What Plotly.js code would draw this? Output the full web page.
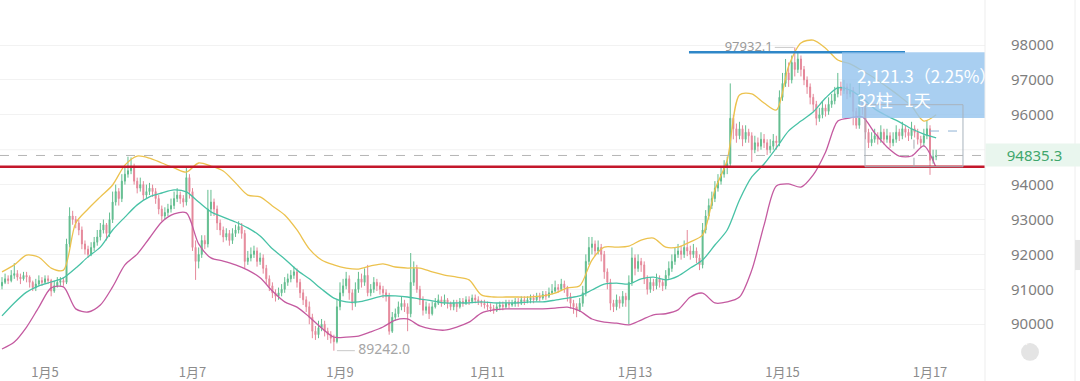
<!DOCTYPE html>
<html>
<head>
<meta charset="utf-8">
<script src="https://cdn.plot.ly/plotly-3.0.1.min.js"></script>
<style>html,body{margin:0;padding:0;background:#fff;}#chart{width:1080px;height:381px;}</style>
</head>
<body>
<div id="chart"></div>
<script>
// ---- data (hourly candles, starting 2025-01-04 10:00) ----
const firstOpen = 91100;
const closePrices = [
91200,91300,91250,91400,91450,91350,91300,91400,91350,91200,
91050,91150,91250,91200,91300,91250,90950,91100,91200,91250,
91200,92300,93100,93000,92900,92700,92300,92150,92000,92200,
92350,92500,92700,92850,92600,93000,93500,93800,93600,94100,
94300,94400,94500,94100,93900,94000,93700,93800,93900,93800,
93600,93300,93100,93200,93300,93400,93600,93700,93600,93500,
94200,93800,92200,91800,92000,92400,92300,93300,93500,93300,
92900,92700,92500,92600,92400,92600,92700,92800,92600,91800,
91900,92000,92100,91800,91900,91600,91300,91100,90900,90800,
90900,91000,91200,91300,91400,91500,91200,90900,90700,90500,
90200,89800,89700,89900,90000,89800,89700,89600,89500,90500,
90900,91100,91300,90900,90600,91000,91300,91200,91400,90900,
91000,91200,91100,91000,90900,90800,89800,90200,90300,90500,
90600,90500,90300,91200,91600,91000,90700,90400,90500,90300,
90500,90600,90700,90600,90700,90600,90500,90600,90500,90650,
90600,90700,90650,90750,90700,90650,90600,90550,90500,90450,
90400,90500,90550,90500,90600,90550,90600,90650,90600,90700,
90650,90700,90750,90700,90800,90750,90850,90800,90900,90950,
91050,91000,91150,91050,90800,90600,90500,90400,90600,90900,
91800,92200,92300,92100,92200,92000,91500,91200,90600,90500,
90700,90600,90800,90700,91200,91900,91600,91800,91700,91300,
91000,91200,91100,91300,91200,91100,91400,91600,91800,92000,
92100,92000,92200,92100,92000,92100,91900,91700,92700,93100,
93400,93600,93900,94100,94300,94500,94600,95900,95600,95400,
95600,95300,95500,95400,95000,95200,95100,95300,95200,95000,
95100,95250,95200,96500,96900,97200,97000,97500,97300,97600,
97300,97000,96800,96500,96300,95900,96000,96200,96100,96300,
96400,96600,96800,96700,96800,96600,96700,96100,95700,96500,
96200,95500,95200,95300,95400,95300,95500,95300,95400,95200,
95300,95500,95400,95600,95500,95400,95600,95500,95300,95200,
95400,95600,94700,94800,94835.3
];
const highPrices = [
91350,91450,91400,91550,91750,91550,91450,91500,91500,91400,
91250,91300,91400,91350,91400,91400,91300,91250,91350,91350,
91350,92450,93350,93250,93100,93000,92800,92400,92250,92350,
92500,92700,92900,93000,92900,93200,93800,94000,93900,94300,
94500,94800,94780,94600,94200,94200,94100,94000,94050,94000,
93900,93700,93400,93350,93450,93600,93800,93900,93800,93700,
94500,94300,93900,92400,92200,92550,92550,93850,93850,93600,
93400,93000,92800,92750,92700,92750,92850,92950,92900,92700,
92100,92200,92250,92200,92050,92000,91700,91400,91200,91000,
91050,91150,91350,91450,91550,91650,91600,91300,91000,90800,
90650,90300,89950,90100,90150,90100,89900,89800,89700,90700,
91200,91300,91500,91400,91000,91200,91500,91450,91600,91700,
91150,91350,91300,91200,91100,91000,90900,90350,90450,90650,
90800,90700,90600,92040,91800,91700,91100,90800,90650,90600,
90650,90750,90850,90800,90850,90750,90650,90700,90700,90750,
90750,90800,90800,90850,90850,90800,90700,90700,90650,90600,
90550,90600,90650,90650,90700,90700,90700,90750,90750,90800,
90800,90800,90850,90850,90900,90900,90950,90950,91050,91150,
91250,91150,91300,91250,91100,90900,90700,90600,90750,91100,
92000,92500,92500,92400,92400,92300,92100,91600,91300,90700,
90850,90800,90950,90900,91400,92200,92000,92000,91900,91800,
91400,91350,91300,91450,91400,91300,91550,91800,92000,92200,
92300,92250,92400,92700,92250,92300,92200,92000,92900,93270,
93600,93800,94100,94300,94500,94700,94800,96900,96000,95750,
95800,95700,95700,95600,95500,95400,95350,95500,95450,95300,
95300,95450,95400,96700,97200,97600,97500,97700,97932.1,97800,
97700,97400,97100,96900,96600,96400,96200,96400,96300,96500,
96600,96800,97200,96950,97000,96900,96900,96800,96200,96950,
96600,96300,95600,95500,95600,95500,95700,95600,95600,95500,
95500,95700,95600,95800,95700,95600,95800,95700,95600,95400,
95600,95850,95700,95000,95000
];
const lowPrices = [
91000,91150,91150,91200,91300,91250,91150,91250,91200,91050,
90950,90950,91100,91100,91150,91150,90800,90900,91050,91100,
91100,91150,92200,92850,92750,92550,92150,92000,91900,91950,
92100,92250,92400,92600,92400,92500,92900,93400,93400,93500,
94000,94200,94300,94000,93750,93800,93550,93600,93700,93650,
93450,93150,92950,93000,93100,93200,93300,93500,93450,93350,
93400,93600,92100,91270,91600,91900,92150,92200,93100,93100,
92700,92550,92350,92400,92250,92300,92500,92600,92450,91600,
91700,91800,91900,91650,91700,91450,91150,90950,90750,90650,
90700,90800,90900,91100,91200,91300,91050,90750,90550,90350,
90000,89600,89550,89600,89800,89650,89550,89450,89242,89450,
90400,90800,91000,90700,90400,90500,90900,91050,91100,90800,
90800,90900,90950,90850,90750,90650,89700,89750,90100,90200,
90400,90350,89800,90200,91100,90900,90550,90250,90300,90150,
90250,90450,90550,90500,90550,90450,90400,90400,90350,90450,
90500,90550,90550,90600,90600,90550,90500,90450,90400,90350,
90300,90350,90400,90400,90450,90450,90500,90500,90500,90550,
90550,90600,90600,90600,90650,90650,90700,90700,90750,90850,
90900,90900,90950,90900,90650,90450,90300,90200,90350,90500,
90800,91700,92000,91950,92000,91800,91300,91000,90400,90350,
90400,90450,90500,90500,90000,91100,91400,91500,91500,91150,
90850,90900,90950,91000,91050,90950,91000,91300,91500,91700,
91900,91850,91900,91950,91850,91900,91750,91550,91600,92600,
93000,93300,93500,93800,94000,94200,94300,94500,95300,95200,
95300,95100,95200,95200,94650,94900,94950,95000,95050,94850,
94900,95000,95000,95100,96400,96800,96800,96900,97100,97200,
97100,96850,96600,96300,96100,95700,95800,95900,95950,96000,
96200,96300,96500,96550,96600,96450,96500,95700,95600,95600,
96000,95300,95050,95100,95200,95150,95200,95150,95200,95050,
95100,95200,95250,95300,95350,95250,95300,95350,95150,95050,
95100,95300,94280,94600,94700
];
// Bollinger bands read every 4 hours
const upperBand = [
91500,91700,91980,91920,91610,91550,92900,93300,93650,93990,
94560,94820,94760,94620,94480,94360,94620,94530,94390,94050,
93700,93650,93390,93130,92700,92160,91840,91700,91610,91580,
91670,91730,91640,91610,91610,91500,91410,91350,91270,90840,
90780,90780,90780,90780,90810,90890,91040,91100,91840,92210,
92210,92240,92410,92470,92210,92210,92360,92560,93850,94700,
96570,96600,96340,96140,97400,98060,98140,97910,97570,97460,
97260,97050,96800,96540,96250,95820,96000
];
const middleBand = [
90240,90610,90920,91100,91210,91330,91610,91930,92210,92700,
93070,93420,93650,93760,93850,93790,93500,93220,93070,92930,
92760,92530,92160,91870,91550,91300,91010,90750,90640,90640,
90720,90810,90810,90780,90720,90670,90610,90610,90610,90640,
90610,90610,90610,90640,90640,90690,90750,90810,90980,91150,
91180,91150,91300,91350,91270,91380,91610,91840,92270,92700,
93560,94220,94590,95050,95540,95820,96080,96480,96770,96710,
96480,96170,95970,95800,95600,95450,95340
];
const lowerBand = [
89290,89490,89920,90490,91040,91070,90440,90350,90550,91070,
91700,92010,92470,92930,93160,93190,92300,91900,91810,91700,
91550,91330,90950,90640,90490,90210,89890,89630,89630,89660,
89780,89920,90120,90150,89950,89860,89830,89920,90060,90320,
90410,90440,90440,90440,90440,90460,90490,90380,90150,90060,
90030,89980,90120,90270,90300,90410,90780,90890,90610,90640,
90780,91550,92840,93960,94020,93930,94280,94930,95820,95910,
95940,95480,95080,94820,94820,95110,94480
];
const dayTicks = ['2025-01-05','2025-01-07','2025-01-09','2025-01-11','2025-01-13','2025-01-15','2025-01-17'];
const dayLabels = ['1月5','1月7','1月9','1月11','1月13','1月15','1月17'];
const priceTicks = [90000,91000,92000,93000,94000,96000,97000,98000];
const hiddenGridLevel = 95000;
const lastPrice = 94835.3;
const supportLevel = 94513;
const resistanceLevel = 97790;
const highPrice = 97932.1;
const lowPrice = 89242.0;
const measureText = '2,121.3（2.25%）';
const measureText2 = '32柱&nbsp;&nbsp;&nbsp;1天';

// ---- build ----
const startMs = Date.UTC(2025,0,4,10,0,0);
function stamp(h){ return new Date(startMs + h*3600000).toISOString().slice(0,19).replace('T',' '); }
const candleTimes = closePrices.map((_,i)=>stamp(i));
const openPrices = closePrices.map((c,i)=> i===0 ? firstOpen : closePrices[i-1]);
const bandTimes = upperBand.map((_,k)=>stamp(k*4));

const GREEN='#62bd8f', RED='#e5889a';
const traces = [
  {type:'candlestick', x:candleTimes, open:openPrices, high:highPrices, low:lowPrices, close:closePrices,
   increasing:{line:{color:GREEN,width:1},fillcolor:GREEN},
   decreasing:{line:{color:RED,width:1},fillcolor:RED},
   whiskerwidth:0, showlegend:false, hoverinfo:'skip'},
  {type:'scatter', mode:'lines', x:bandTimes, y:upperBand, line:{color:'#ecc24e',width:1.3,shape:'spline',smoothing:0.8}, showlegend:false, hoverinfo:'skip'},
  {type:'scatter', mode:'lines', x:bandTimes, y:middleBand, line:{color:'#48c2a6',width:1.3,shape:'spline',smoothing:0.8}, showlegend:false, hoverinfo:'skip'},
  {type:'scatter', mode:'lines', x:bandTimes, y:lowerBand, line:{color:'#c45aa0',width:1.3,shape:'spline',smoothing:0.8}, showlegend:false, hoverinfo:'skip'},
  {type:'scatter', mode:'text', x:['2025-01-14 13:00'], y:[highPrice], text:[highPrice.toFixed(1)], textposition:'middle center',
   textfont:{size:13,color:'#9a9a9a',family:'Noto Sans'}, showlegend:false, hoverinfo:'skip', cliponaxis:false},
  {type:'scatter', mode:'text', x:['2025-01-09 14:20'], y:[lowPrice], text:[lowPrice.toFixed(1)], textposition:'middle center',
   textfont:{size:14,color:'#a6a6a6',family:'Noto Sans'}, showlegend:false, hoverinfo:'skip', cliponaxis:false}
];

const shapes = [
  {type:'line', xref:'paper', x0:0, x1:1, yref:'y', y0:hiddenGridLevel, y1:hiddenGridLevel, layer:'below', line:{color:'#f2f2f2',width:1}},
  {type:'line', xref:'paper', x0:0, x1:1, yref:'y', y0:lastPrice, y1:lastPrice, line:{color:'#b5b5b5',width:1,dash:'dash'}},
  {type:'line', xref:'paper', x0:0, x1:1, yref:'y', y0:supportLevel, y1:supportLevel, line:{color:'#c3172b',width:2.5}},
  {type:'line', x0:'2025-01-13 17:34', x1:'2025-01-16 15:52', y0:resistanceLevel, y1:resistanceLevel, line:{color:'#2f87c8',width:2.5}},
  {type:'line', x0:'2025-01-14 21:30', x1:'2025-01-15 03:40', y0:highPrice, y1:highPrice, line:{color:'#c8c8c8',width:1}},
  {type:'line', x0:'2025-01-08 23:00', x1:'2025-01-09 04:50', y0:lowPrice, y1:lowPrice, line:{color:'#c8c8c8',width:1}},
  {type:'rect', x0:'2025-01-15 19:22', x1:'2025-01-17 17:54', y0:95909, y1:resistanceLevel, fillcolor:'rgba(150,196,238,0.82)', line:{width:0}},
  {type:'rect', x0:'2025-01-16 02:51', x1:'2025-01-17 10:44', y0:supportLevel, y1:96290, line:{color:'#a9b3bd',width:1}, fillcolor:'rgba(0,0,0,0)'},
  {type:'line', x0:'2025-01-16 18:47', x1:'2025-01-16 18:47', y0:supportLevel, y1:95565, line:{color:'#a0a8b0',width:1,dash:'dash'}},
  {type:'line', x0:'2025-01-17 00:00', x1:'2025-01-17 10:25', y0:95536, y1:95536, line:{color:'#8fb2d4',width:1,dash:'dash'}},
  {type:'path', path:'M 2025-01-17 07:30,95690 L 2025-01-17 10:25,95536 L 2025-01-17 07:30,95382', line:{color:'#8fb2d4',width:1}},
  {type:'line', xref:'paper', yref:'paper', x0:1, x1:1, y0:-0.05, y1:1, line:{color:'#ededed',width:1}},
  {type:'line', xref:'paper', yref:'paper', x0:1.0914, x1:1.0914, y0:-0.05, y1:1, line:{color:'#eeeeee',width:1}},
  {type:'rect', xref:'paper', yref:'paper', x0:1.0914, x1:1.1, y0:0.256, y1:0.339, fillcolor:'#e6e6e6', line:{width:0}},
  {type:'circle', xref:'paper', yref:'paper', x0:1.0366, x1:1.0548, y0:0.006, y1:0.055, fillcolor:'#e4e4e4', line:{width:0}}
];

const annotations = [
  {xref:'x', yref:'y', x:'2025-01-15 23:35', y:97140, text:measureText, showarrow:false, xanchor:'left', yanchor:'middle',
   font:{size:17,color:'#ffffff',family:'Noto Sans CJK SC'}},
  {xref:'x', yref:'y', x:'2025-01-15 23:35', y:96453, text:measureText2, showarrow:false, xanchor:'left', yanchor:'middle',
   font:{size:17,color:'#ffffff',family:'Noto Sans CJK SC'}},
  {xref:'paper', yref:'y', x:1, y:lastPrice, text:lastPrice.toFixed(1), showarrow:false, xanchor:'left', yanchor:'middle',
   width:95, height:20, bgcolor:'#e9f6ee', align:'center', font:{size:15,color:'#3fa66c',family:'Noto Sans'}},
  {xref:'paper', yref:'paper', x:1.0457, y:0.0305, text:'‹', showarrow:false, font:{size:12,color:'#ffffff'}}
];

const layout = {
  width:1080, height:381,
  margin:{l:0, r:95, t:0, b:18, pad:0},
  paper_bgcolor:'#ffffff', plot_bgcolor:'#ffffff',
  showlegend:false, hovermode:false, dragmode:false,
  boxgap:0.55,
  xaxis:{type:'date', range:['2025-01-04 09:21','2025-01-17 17:54'], tickvals:dayTicks, ticktext:dayLabels,
         showgrid:false, zeroline:false, showline:false, ticks:'', rangeslider:{visible:false},
         tickfont:{size:13,color:'#8c8c8c',family:'Noto Sans CJK SC'}},
  yaxis:{side:'right', range:[88889,99290], tickvals:priceTicks, ticktext:priceTicks.map(String),
         showgrid:true, gridcolor:'#f2f2f2', gridwidth:1, zeroline:false, showline:false,
         ticks:'outside', ticklen:22, tickcolor:'rgba(0,0,0,0)',
         tickfont:{size:15,color:'#7e7e7e',family:'Noto Sans'}},
  shapes:shapes, annotations:annotations
};

Plotly.newPlot('chart', traces, layout, {staticPlot:true, displayModeBar:false});
</script>
</body>
</html>
